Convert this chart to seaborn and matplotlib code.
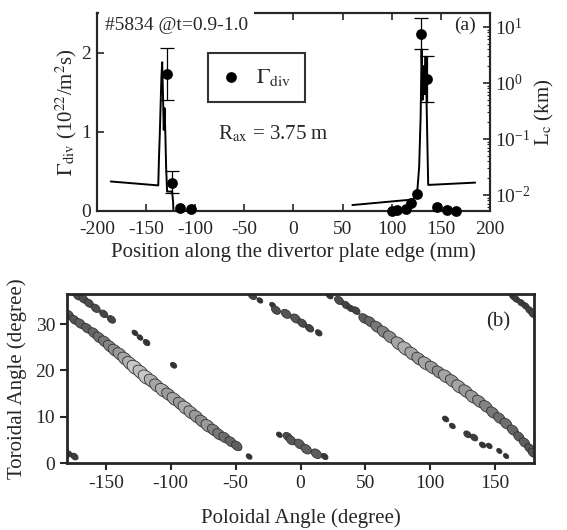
import numpy as np
import pandas as pd
import matplotlib
matplotlib.use("Agg")
import matplotlib.pyplot as plt
import seaborn as sns
from matplotlib.colors import LinearSegmentedColormap
from matplotlib.markers import MarkerStyle
from matplotlib.transforms import Affine2D

# ---------- (a) particle flux on the divertor plate ----------
gamma_pos = [-129, -124, -115.5, -104, 100, 105.7, 115, 120, 125.4, 129.8, 135.5, 145.7, 156, 166]
gamma_val = [1.73, 0.35, 0.04, 0.02, 0.0, 0.01, 0.02, 0.10, 0.21, 2.23, 1.66, 0.05, 0.01, 0.0]

# points with error bars
err_pos = [-129, -124, 129.8, 135.5]
err_val = [1.73, 0.35, 2.23, 1.66]
err_lo = [1.40, 0.23, 2.04, 1.38]
err_hi = [2.06, 0.51, 2.43, 1.96]

# connection length (km), two branches
lc_left_x = [-186, -137.6, -136.8, -136.0, -135.2, -134.4, -133.6, -132.8, -132.0,
             -131.2, -130.4, -129.6, -128.6, -127.0, -123.5, -122.5, -121.5]
lc_left = [0.0174, 0.0148, 0.05, 0.126, 0.4, 1.26, 2.34, 0.63, 0.145,
           0.355, 0.126, 0.0316, 0.0115, 0.0115, 0.0115, 0.0076, 0.0025]
lc_right_x = [60, 122, 124, 126, 128, 129.5, 130.5, 131.5, 132.5, 133.5, 134.5,
              135.5, 136.5, 137.2, 185]
lc_right = [0.0066, 0.0083, 0.010, 0.0112, 0.0316, 0.25, 4.0, 0.5, 2.0, 0.63, 2.95,
            0.5, 0.063, 0.0151, 0.0166]

# ---------- (b) footprint pattern (poloidal, toroidal, level) ----------
band1_phi = [-178.6, -174.2, -169.8, -164.6, -159.4, -155.3, -150.9, -147.0, -143.1, -139.2,
             -135.3, -131.4, -127.6, -123.2, -119.0, -114.7, -110.8, -106.1, -101.7, -97.3,
             -92.6, -88.7, -84.4, -80.2, -75.9, -71.4, -66.8, -62.9, -58.5, -53.8, -49.1]
band1_theta = [32.0, 30.9, 30.1, 29.1, 28.1, 27.1, 26.2, 25.2, 24.3, 23.5,
               22.5, 21.5, 20.6, 19.6, 18.5, 17.7, 16.7, 15.7, 14.8, 13.8,
               12.8, 11.9, 10.9, 10.0, 9.0, 8.0, 7.1, 6.2, 5.5, 4.6, 3.7]
band1_level = [0.3, 0.3, 0.35, 0.35, 0.4, 0.45, 0.5, 0.55, 0.6, 0.65,
               0.7, 0.75, 0.85, 0.8, 0.85, 0.75, 0.7, 0.75, 0.65, 0.7,
               0.65, 0.75, 0.7, 0.65, 0.6, 0.65, 0.55, 0.5, 0.45, 0.4, 0.35]

band2_phi = [-171.6, -167.2, -163.0, -157.8, -151.6, -145.7, -127.6, -123.7, -118.6, -97.8]
band2_theta = [36.1, 35.4, 34.5, 33.4, 32.2, 31.0, 28.1, 27.1, 26.0, 21.1]
band2_level = [0.25, 0.25, 0.25, 0.25, 0.2, 0.2, 0.08, 0.08, 0.12, 0.1]

band3_phi = [-37.0, -31.3, -21.5, -18.9, -11.1, -3.9, 1.3, 7.0, 14.0]
band3_theta = [36.1, 35.1, 34.1, 33.0, 32.2, 31.2, 30.2, 29.1, 28.1]
band3_level = [0.2, 0.08, 0.08, 0.25, 0.3, 0.3, 0.25, 0.2, 0.12]

band4_phi = [-16.3, -9.9, -7.2, -0.8, 4.4, 12.2, 18.6, -39.6]
band4_theta = [6.1, 5.7, 4.9, 4.1, 3.0, 2.0, 1.4, 1.4]
band4_level = [0.08, 0.25, 0.3, 0.35, 0.35, 0.35, 0.12, 0.08]

band5_phi = [48.9, 53.6, 58.8, 64.0, 69.1, 75.5, 80.7, 85.9, 91.1, 96.3, 101.5, 106.6, 111.8,
             117.0, 122.1, 127.3, 132.5, 137.7, 142.9, 148.1, 153.2, 158.4, 163.6, 168.2,
             172.6, 176.5, 179.1]
band5_theta = [31.2, 30.5, 29.4, 28.3, 27.2, 25.8, 24.7, 23.6, 22.5, 21.5, 20.6, 19.6, 18.7,
               17.7, 16.5, 15.5, 14.3, 13.3, 12.2, 10.9, 9.7, 8.5, 7.1, 5.7, 4.4, 3.2, 2.2]
band5_level = [0.35, 0.4, 0.5, 0.55, 0.6, 0.7, 0.75, 0.7, 0.65, 0.7, 0.65, 0.6, 0.7,
               0.65, 0.7, 0.65, 0.65, 0.6, 0.55, 0.5, 0.45, 0.45, 0.4, 0.35, 0.35, 0.3, 0.3]

band6_phi = [22.5, 29.7, 35.0, 38.6, 42.7, 163.6, 166.1, 170.0, 173.4, 176.5, 179.1]
band6_theta = [36.1, 35.1, 34.1, 33.4, 32.9, 35.9, 35.4, 34.6, 33.9, 33.0, 32.2]
band6_level = [0.12, 0.25, 0.2, 0.15, 0.2, 0.1, 0.15, 0.15, 0.15, 0.18, 0.2]

band8_phi = [111.8, 117.0, 128.6, 133.8, 140.3, 145.4, 153.2, 158.4, -178.6, -174.2]
band8_theta = [9.5, 8.0, 6.2, 5.5, 3.9, 3.7, 2.6, 1.5, 2.0, 1.4]
band8_level = [0.1, 0.08, 0.15, 0.15, 0.1, 0.08, 0.06, 0.06, 0.12, 0.15]

sns.set_style("ticks")
plt.rcParams["font.family"] = ["Liberation Serif", "DejaVu Serif"]
plt.rcParams["mathtext.fontset"] = "stix"
plt.rcParams["axes.unicode_minus"] = False
plt.rcParams["font.size"] = 14

fig = plt.figure(figsize=(5.67, 5.30), dpi=100)

# ===== panel (a) =====
ax1 = fig.add_axes([0.171, 0.602, 0.693, 0.3736])
ax2 = ax1.twinx()

sns.lineplot(x=lc_left_x, y=lc_left, ax=ax2, color="black", lw=1.4, sort=False)
sns.lineplot(x=lc_right_x, y=lc_right, ax=ax2, color="black", lw=1.4, sort=False)
ax2.set_yscale("log")
ax2.set_ylim(5.18e-3, 17.8)

ax1.errorbar(err_pos, err_val,
             yerr=[np.subtract(err_val, err_lo), np.subtract(err_hi, err_val)],
             fmt="none", ecolor="black", elinewidth=0.9, capsize=5, capthick=0.9,
             zorder=4)
sns.scatterplot(x=gamma_pos, y=gamma_val, ax=ax1, color="black", s=60,
                edgecolor="black", linewidth=0, label=r"$\Gamma_{\rm div}$",
                zorder=5, clip_on=False)
ax1.set_zorder(ax2.get_zorder() + 1)
ax1.patch.set_visible(False)

ax1.set_xlim(-200, 200)
ax1.set_ylim(0, 2.5)
ax1.set_xticks(np.arange(-200, 201, 50))
ax1.set_yticks([0, 1, 2])
ax1.tick_params(axis="x", direction="in", length=5, width=1.2, top=True, labelsize=14, pad=7)
ax1.tick_params(axis="y", direction="in", length=5, width=1.2, labelsize=14, pad=4)
ax2.tick_params(which="major", direction="in", length=5, width=1.2, labelsize=14)
ax2.tick_params(which="minor", direction="in", length=2.5, width=0.8)
for sp in ax1.spines.values():
    sp.set_linewidth(1.5)
for sp in ax2.spines.values():
    sp.set_linewidth(1.5)

ax1.set_xlabel("Position along the divertor plate edge (mm)", fontsize=15, labelpad=3)
ax1.set_ylabel(r"$\Gamma_{\rm div}$ (10$^{22}$/m$^2$s)", fontsize=15, labelpad=2)
ax2.set_ylabel(r"L$_{\rm c}$ (km)", fontsize=15, labelpad=2)

leg = ax1.legend(loc="upper left", bbox_to_anchor=(0.282, 0.800), frameon=True,
                 fancybox=False, edgecolor="black", fontsize=16, handlelength=0.8,
                 handletextpad=0.7, borderpad=0.65, borderaxespad=0, markerscale=1.0)
leg.get_frame().set_linewidth(1.5)

ax1.text(-192, 2.34, "#5834 @t=0.9-1.0", fontsize=14, va="center", ha="left",
         zorder=10, bbox=dict(facecolor="white", edgecolor="none", pad=4))
ax1.text(186, 2.34, "(a)", fontsize=14, va="center", ha="right")
ax1.text(-77, 0.9, r"R$_{\rm ax}$ = 3.75 m", fontsize=15, va="baseline", ha="left")

# ===== panel (b) =====
ax3 = fig.add_axes([0.118, 0.1264, 0.824, 0.319])
pat = pd.DataFrame({
    "phi": band1_phi + band2_phi + band3_phi + band4_phi + band5_phi + band6_phi + band8_phi,
    "theta": band1_theta + band2_theta + band3_theta + band4_theta + band5_theta + band6_theta + band8_theta,
    "level": band1_level + band2_level + band3_level + band4_level + band5_level + band6_level + band8_level,
})
grey = LinearSegmentedColormap.from_list("blob", ["0.2", "0.45", "0.78"])
blob = MarkerStyle("o", transform=Affine2D().scale(1.4, 1.0).rotate_deg(-39))
sns.scatterplot(data=pat, x="phi", y="theta", hue="level", size="level", ax=ax3,
                palette=grey, hue_norm=(0.1, 0.85), sizes=(4, 80), size_norm=(0, 0.85),
                marker=blob, edgecolor="0.2", linewidth=0.6, legend=False)

ax3.set_xlim(-180, 180)
ax3.set_ylim(0, 36.5)
ax3.set_xticks([-150, -100, -50, 0, 50, 100, 150])
ax3.set_yticks([0, 10, 20, 30])
ax3.tick_params(direction="out", length=5, width=1.5, labelsize=14)
for sp in ax3.spines.values():
    sp.set_linewidth(2)
ax3.set_xlabel("Poloidal Angle (degree)", fontsize=15, labelpad=12)
ax3.set_ylabel("Toroidal Angle (degree)", fontsize=15, labelpad=6)
ax3.text(152, 30.4, "(b)", fontsize=15, ha="center", va="center")

fig.savefig("out.png", dpi=100)
